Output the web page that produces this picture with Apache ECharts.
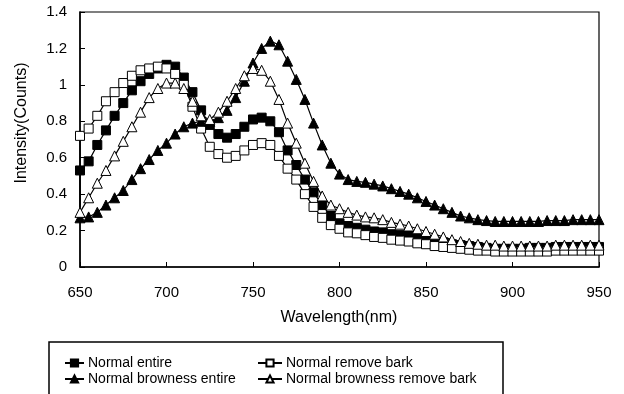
<!DOCTYPE html>
<html>
<head>
<meta charset="utf-8">
<script src="https://cdn.jsdelivr.net/npm/echarts@6/dist/echarts.min.js"></script>
<style>
  html, body { margin: 0; padding: 0; background: #fff; }
  #chart { width: 624px; height: 394px; }
</style>
</head>
<body>
<div id="chart"></div>
<script>
// wavelength (nm), one point every 5 nm
var wavelengths = [650, 655, 660, 665, 670, 675, 680, 685, 690, 695,
  700, 705, 710, 715, 720, 725, 730, 735, 740, 745,
  750, 755, 760, 765, 770, 775, 780, 785, 790, 795,
  800, 805, 810, 815, 820, 825, 830, 835, 840, 845,
  850, 855, 860, 865, 870, 875, 880, 885, 890, 895,
  900, 905, 910, 915, 920, 925, 930, 935, 940, 945, 950];

var normalEntire = [0.53, 0.58, 0.67, 0.75, 0.83, 0.90, 0.97, 1.02, 1.06, 1.09,
  1.11, 1.10, 1.04, 0.96, 0.86, 0.78, 0.73, 0.71, 0.73, 0.77,
  0.81, 0.82, 0.80, 0.74, 0.64, 0.56, 0.48, 0.41, 0.34, 0.28,
  0.24, 0.225, 0.215, 0.205, 0.195, 0.19, 0.18, 0.175, 0.17, 0.16,
  0.15, 0.14, 0.135, 0.125, 0.12, 0.115, 0.11, 0.105, 0.1, 0.1,
  0.1, 0.1, 0.105, 0.105, 0.105, 0.11, 0.11, 0.11, 0.11, 0.11, 0.11];

var normalRemoveBark = [0.72, 0.76, 0.83, 0.91, 0.96, 1.01, 1.05, 1.08, 1.09, 1.10,
  1.09, 1.06, 1.00, 0.88, 0.76, 0.66, 0.62, 0.60, 0.61, 0.64,
  0.67, 0.68, 0.67, 0.61, 0.54, 0.48, 0.40, 0.33, 0.27, 0.23,
  0.21, 0.19, 0.185, 0.175, 0.165, 0.16, 0.15, 0.145, 0.14, 0.13,
  0.125, 0.115, 0.11, 0.105, 0.1, 0.095, 0.09, 0.09, 0.085, 0.085,
  0.085, 0.085, 0.085, 0.085, 0.085, 0.09, 0.09, 0.09, 0.09, 0.09, 0.09];

var brownEntire = [0.27, 0.275, 0.30, 0.34, 0.38, 0.42, 0.48, 0.54, 0.59, 0.64,
  0.68, 0.73, 0.77, 0.79, 0.80, 0.80, 0.82, 0.86, 0.93, 1.02,
  1.12, 1.20, 1.24, 1.22, 1.13, 1.03, 0.92, 0.79, 0.67, 0.57,
  0.51, 0.48, 0.47, 0.465, 0.455, 0.445, 0.43, 0.415, 0.40, 0.38,
  0.36, 0.34, 0.32, 0.30, 0.28, 0.27, 0.26, 0.255, 0.25, 0.25,
  0.25, 0.25, 0.25, 0.25, 0.255, 0.255, 0.255, 0.26, 0.26, 0.26, 0.26];

var brownRemoveBark = [0.30, 0.38, 0.46, 0.53, 0.61, 0.69, 0.77, 0.85, 0.93, 0.98,
  1.01, 1.01, 0.98, 0.91, 0.83, 0.81, 0.85, 0.91, 0.98, 1.05,
  1.09, 1.08, 1.02, 0.92, 0.79, 0.68, 0.57, 0.47, 0.39, 0.34,
  0.32, 0.30, 0.285, 0.275, 0.27, 0.26, 0.245, 0.235, 0.225, 0.21,
  0.195, 0.18, 0.165, 0.15, 0.14, 0.13, 0.125, 0.12, 0.12, 0.115,
  0.115, 0.115, 0.115, 0.115, 0.115, 0.12, 0.12, 0.12, 0.12, 0.12, 0.12];

// the square curves start from a low point at 650 nm before the first marker
var hookStart = 0.31;

var yTicks = [0, 0.2, 0.4, 0.6, 0.8, 1, 1.2, 1.4];

function pairs(ys, hook) {
    var out = [];
    if (hook != null) {
        out.push({ value: [wavelengths[0], hook], symbol: 'none' });
    }
    for (var i = 0; i < wavelengths.length; i++) {
        out.push([wavelengths[i], ys[i]]);
    }
    return out;
}

function makeSeries(name, ys, symbol, filled, size, hook) {
    return {
        name: name,
        type: 'line',
        data: pairs(ys, hook),
        symbol: symbol,
        symbolSize: size,
        showAllSymbol: true,
        lineStyle: { color: '#000', width: 1.2 },
        itemStyle: {
            color: filled ? '#000' : '#fff',
            borderColor: '#000',
            borderWidth: 1
        },
        emphasis: { disabled: true },
        animation: false
    };
}

// one legend per entry, laid out as the 2x2 block of the original
function legendAt(name, left, top, w) {
    return {
        data: [name],
        left: left, top: top,
        padding: 0,
        itemWidth: w, itemHeight: 9,
        selectedMode: false,
        textStyle: { fontFamily: font, fontSize: 14, color: '#000', padding: [0, 0, 0, -1] }
    };
}

var font = 'Liberation Sans, Arial, sans-serif';
var chart = echarts.init(document.getElementById('chart'));

chart.setOption({
    backgroundColor: '#fff',
    animation: false,
    grid: {
        left: 80, right: 25, top: 12, bottom: 127,
        show: true, borderColor: '#000', borderWidth: 1.2
    },
    xAxis: {
        type: 'value',
        min: 650, max: 950, interval: 50,
        axisLine: { lineStyle: { color: '#000', width: 1.5 } },
        axisTick: { inside: true, length: 5, lineStyle: { color: '#000' } },
        axisLabel: { fontFamily: font, fontSize: 15, color: '#000', margin: 18 },
        splitLine: { show: false }
    },
    yAxis: {
        type: 'value',
        min: 0, max: 1.4, interval: 0.2,
        axisLine: { show: true, lineStyle: { color: '#000', width: 1.5 } },
        axisTick: { show: true, inside: true, length: 5, lineStyle: { color: '#000' } },
        axisLabel: {
            fontFamily: font, fontSize: 15, color: '#000', margin: 13,
            formatter: function (v) {
                var t = yTicks.filter(function (k) { return Math.abs(k - v) < 1e-6; });
                return t.length ? String(t[0]) : '';
            }
        },
        splitLine: { show: false }
    },
    legend: [
        legendAt('Normal entire', 64, 356, 19),
        legendAt('Normal browness entire', 64, 372, 19),
        legendAt('Normal remove bark', 257, 356, 24),
        legendAt('Normal browness remove bark', 257, 372, 24)
    ],
    graphic: [{
        type: 'rect',
        shape: { x: 49, y: 342, width: 454, height: 70 },
        style: { fill: 'none', stroke: '#000', lineWidth: 1.5 },
        silent: true
    }, {
        type: 'text',
        x: 339, y: 318,
        style: { text: 'Wavelength(nm)', font: '16px ' + font, fill: '#000', align: 'center', verticalAlign: 'middle' },
        silent: true
    }, {
        type: 'text',
        x: 22, y: 123,
        rotation: Math.PI / 2,
        style: { text: 'Intensity(Counts)', font: '16px ' + font, fill: '#000', align: 'center', verticalAlign: 'middle' },
        silent: true
    }],
    series: [
        makeSeries('Normal entire', normalEntire, 'rect', true, 9, hookStart),
        makeSeries('Normal remove bark', normalRemoveBark, 'rect', false, 9, hookStart),
        makeSeries('Normal browness entire', brownEntire, 'triangle', true, 10),
        makeSeries('Normal browness remove bark', brownRemoveBark, 'triangle', false, 10)
    ]
});
</script>
</body>
</html>
